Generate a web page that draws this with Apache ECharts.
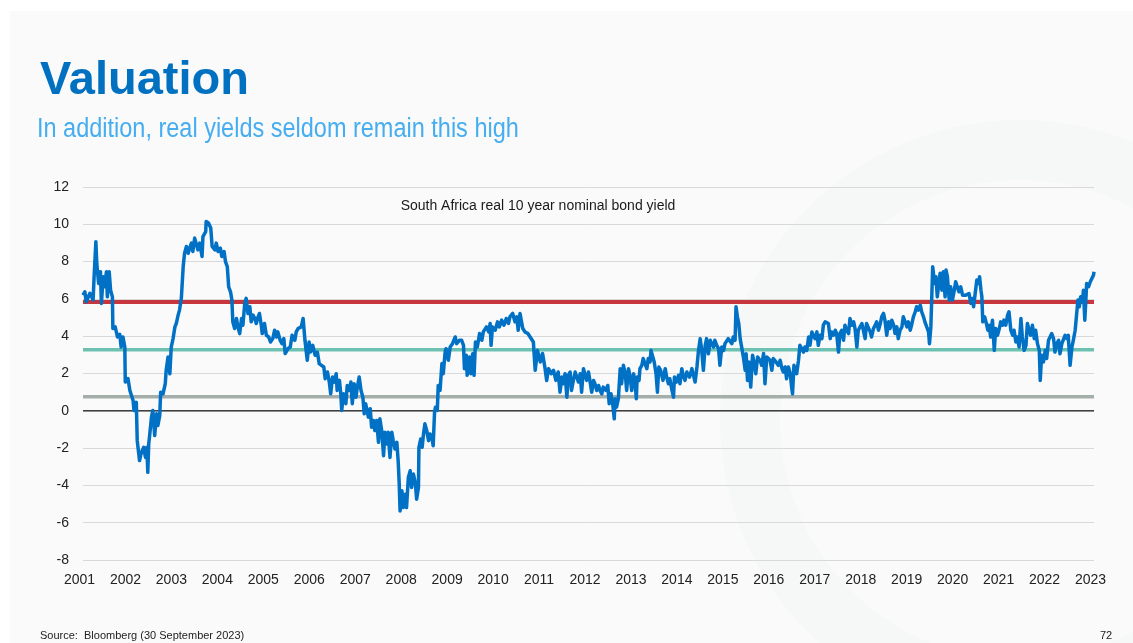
<!DOCTYPE html>
<html>
<head>
<meta charset="utf-8">
<script src="https://cdn.jsdelivr.net/npm/echarts@6/dist/echarts.min.js"></script>
<style>
  html, body { margin: 0; padding: 0; background: #ffffff; }
  #chart { width: 1133px; height: 643px; }
</style>
</head>
<body>
<div id="chart"></div>
<script>
// ---- Data ----
const titleText = 'Valuation';
const subtitleText = 'In addition, real yields seldom remain this high';
const chartTitle = 'South Africa real 10 year nominal bond yield';
const sourceText = 'Source:  Bloomberg (30 September 2023)';
const pageNumber = '72';

const yearTicks = ['2001','2002','2003','2004','2005','2006','2007','2008','2009','2010','2011','2012','2013','2014','2015','2016','2017','2018','2019','2020','2021','2022','2023'];

// Decimal dates of the readings
const dates = [
2001.00,2001.04,2001.07,2001.15,2001.22,2001.24,2001.28,2001.30,2001.34,2001.38,2001.40,2001.44,2001.47,2001.51,2001.53,2001.57,2001.60,2001.64,2001.65,2001.70,
2001.75,2001.80,2001.83,2001.87,2001.91,2001.92,2001.98,2002.02,2002.05,2002.09,2002.11,2002.16,2002.18,2002.23,2002.27,2002.32,2002.36,2002.39,2002.41,2002.43,
2002.45,2002.49,2002.52,2002.56,2002.60,2002.63,2002.67,2002.69,2002.74,2002.79,2002.81,2002.85,2002.89,2002.92,2002.96,2003.00,2003.03,2003.07,2003.10,2003.14,
2003.18,2003.21,2003.25,2003.29,2003.32,2003.36,2003.39,2003.43,2003.47,2003.50,2003.54,2003.59,2003.61,2003.67,2003.68,2003.73,2003.78,2003.81,2003.87,2003.90,
2003.94,2003.99,2004.02,2004.07,2004.10,2004.14,2004.17,2004.21,2004.24,2004.26,2004.30,2004.34,2004.37,2004.41,2004.45,2004.48,2004.52,2004.55,2004.59,2004.63,
2004.66,2004.70,2004.74,2004.77,2004.81,2004.84,2004.88,2004.90,2004.95,2004.99,2005.04,2005.08,2005.13,2005.17,2005.21,2005.24,2005.29,2005.33,2005.37,2005.40,
2005.46,2005.51,2005.55,2005.61,2005.64,2005.68,2005.72,2005.75,2005.79,
2005.83,2005.88,2005.92,2005.95,2006.00,2006.05,2006.10,2006.14,2006.19,2006.24,2006.27,2006.32,2006.36,2006.39,2006.43,2006.47,2006.51,2006.53,2006.58,2006.61,
2006.63,2006.67,2006.72,2006.75,2006.80,2006.83,2006.86,2006.90,2006.94,2006.97,2007.01,2007.05,2007.09,2007.12,2007.15,2007.21,2007.25,2007.28,2007.32,2007.35,
2007.39,2007.43,2007.46,2007.50,2007.54,2007.57,2007.61,2007.64,2007.68,2007.72,2007.75,2007.79,2007.83,2007.86,2007.88,2007.90,2007.94,2007.97,2008.01,2008.04,
2008.08,2008.12,2008.15,2008.19,2008.23,2008.26,2008.30,2008.31,2008.35,2008.38,2008.41,2008.44,2008.48,2008.52,2008.55,2008.59,2008.62,2008.65,2008.67,2008.71,
2008.73,2008.77,2008.81,2008.84,2008.88,2008.90,2008.95,2008.99,2009.04,2009.10,2009.13,2009.19,2009.24,2009.28,2009.30,2009.34,2009.36,2009.41,2009.44,2009.48,
2009.51,2009.54,2009.58,2009.63,2009.68,2009.71,2009.75,2009.78,2009.83,2009.86,2009.88,2009.91,2009.97,2010.02,2010.06,2010.11,2010.16,2010.21,2010.26,2010.29,
2010.35,2010.40,2010.44,2010.47,2010.51,2010.57,2010.62,2010.68,
2010.73,2010.80,2010.84,2010.89,2010.95,2011.00,2011.05,2011.09,2011.13,2011.19,2011.24,2011.29,2011.34,2011.38,2011.42,2011.45,2011.49,2011.53,2011.56,2011.60,
2011.63,2011.67,2011.71,2011.74,2011.78,2011.82,2011.85,2011.89,2011.92,2011.96,2012.00,2012.03,2012.07,2012.11,2012.14,2012.18,2012.22,2012.25,2012.29,2012.32,
2012.38,2012.42,2012.45,2012.49,2012.53,2012.56,2012.58,2012.61,2012.65,2012.69,2012.72,2012.76,2012.80,2012.83,2012.87,2012.90,2012.94,2012.98,2013.01,2013.04,
2013.06,2013.10,2013.12,2013.16,2013.19,2013.23,2013.27,2013.30,2013.34,2013.36,2013.40,2013.43,2013.47,2013.50,2013.53,2013.57,2013.62,2013.67,2013.70,2013.74,
2013.77,2013.81,2013.85,2013.87,2013.91,2013.96,2013.99,2014.03,2014.06,2014.10,2014.14,2014.20,2014.25,2014.28,2014.32,2014.36,2014.39,2014.43,2014.46,2014.50,
2014.54,2014.57,2014.61,2014.65,2014.68,2014.72,2014.75,2014.79,2014.83,2014.86,2014.90,2014.94,2014.97,2015.01,2015.04,2015.08,2015.12,2015.15,2015.19,2015.21,
2015.24,2015.27,2015.30,2015.33,2015.37,2015.41,2015.43,2015.46,2015.49,2015.53,2015.57,2015.60,2015.64,2015.68,
2015.73,2015.77,2015.81,2015.84,2015.88,2015.92,2015.95,2015.99,2016.02,2016.08,2016.13,2016.17,2016.21,2016.24,2016.28,2016.31,2016.35,2016.39,2016.42,2016.44,
2016.47,2016.50,2016.53,2016.57,2016.60,2016.64,2016.68,2016.71,2016.75,2016.79,2016.82,2016.86,2016.89,2016.93,2016.97,2017.00,2017.04,2017.08,2017.11,2017.15,
2017.18,2017.22,2017.26,2017.29,2017.33,2017.37,2017.40,2017.44,2017.47,2017.51,2017.55,2017.58,2017.62,2017.66,2017.69,2017.73,2017.77,2017.80,2017.84,2017.87,
2017.91,2017.95,2017.98,2018.02,2018.05,2018.09,2018.13,2018.16,2018.20,2018.24,2018.27,2018.31,2018.35,2018.38,2018.42,2018.45,2018.49,2018.53,2018.56,2018.60,
2018.64,2018.67,2018.71,2018.74,2018.78,2018.82,2018.85,2018.89,2018.93,2018.96,2019.00,2019.03,2019.07,2019.11,2019.14,2019.18,2019.22,2019.25,2019.29,2019.32,
2019.36,2019.40,2019.42,2019.45,2019.47,2019.49,2019.53,2019.56,2019.59,
2019.65,2019.69,2019.72,2019.76,2019.78,2019.81,2019.85,2019.88,2019.92,2019.96,2019.99,2020.03,2020.06,2020.10,2020.14,2020.17,2020.21,2020.25,2020.28,2020.32,
2020.35,2020.38,2020.41,2020.45,2020.49,2020.51,2020.54,2020.56,2020.58,2020.62,2020.65,2020.69,2020.72,2020.75,2020.79,2020.83,2020.86,2020.90,2020.94,2020.97,
2021.01,2021.04,2021.08,2021.12,2021.15,2021.19,2021.23,2021.26,2021.30,2021.33,2021.37,2021.41,2021.44,2021.48,2021.52,2021.55,2021.59,2021.62,2021.66,2021.70,
2021.73,2021.77,2021.81,2021.83,2021.86,2021.90,2021.94,2021.97,2022.01,2022.04,2022.08,2022.12,2022.15,2022.19,2022.23,2022.26,2022.30,2022.34,2022.37,2022.41,
2022.44,2022.48,2022.52,2022.55,2022.59,2022.63,2022.65,2022.68,2022.71,2022.75,2022.77,2022.80,2022.83,2022.84,2022.88,2022.92,2022.95,2022.99,2023.00
];

// Real 10-year yield (%)
const realYield = [
6.20,6.38,5.85,6.30,5.94,7.10,9.07,7.90,6.83,7.46,5.76,7.19,6.65,7.46,6.11,7.46,6.47,6.11,4.41,4.50,
3.96,4.10,3.42,3.96,3.42,1.54,1.72,1.09,1.00,0.55,0.02,0.45,-1.60,-2.67,-2.23,-1.96,-2.50,-1.96,-3.30,-1.78,
-1.33,-0.34,0.02,-1.33,-0.16,-0.79,-0.25,1.00,0.90,1.45,2.17,2.89,1.99,3.42,3.87,4.50,4.68,5.13,5.40,6.03,
7.73,8.45,8.81,8.45,8.72,8.99,8.54,9.26,8.90,8.63,8.99,8.27,9.34,9.61,10.15,10.07,9.80,8.81,8.63,8.99,
8.54,8.72,8.27,8.54,8.00,7.73,6.65,6.38,5.94,4.77,4.41,4.95,4.50,4.14,4.95,4.59,5.76,6.03,5.22,5.58,
4.77,5.13,4.95,4.68,5.04,5.22,4.59,4.14,4.68,4.05,3.96,3.69,3.87,4.32,3.96,4.23,3.78,3.60,3.87,3.07,
3.33,3.42,4.05,3.78,4.23,4.41,4.32,4.50,4.95,
3.78,2.71,3.69,3.15,3.51,2.98,3.15,2.53,2.44,2.35,1.72,2.08,1.54,0.91,1.81,1.54,1.99,1.09,1.63,0.91,
0.02,0.91,0.38,1.36,1.09,1.54,0.38,1.45,0.73,1.27,1.81,1.09,0.73,-0.16,0.38,-0.34,0.11,-0.88,-0.52,-1.06,
-0.52,-1.69,-0.43,-1.06,-2.41,-1.15,-1.78,-1.15,-2.50,-1.15,-1.60,-2.05,-1.69,-2.77,-3.84,-5.37,-4.29,-5.19,-4.47,-5.19,
-3.57,-3.21,-4.11,-3.39,-3.84,-4.74,-4.11,-1.96,-1.51,-1.96,-1.24,-0.70,-1.06,-1.60,-1.24,-1.42,-1.87,-0.07,0.19,0.02,
1.36,1.09,2.53,1.99,3.15,3.33,2.71,3.42,3.60,3.96,3.60,3.78,3.78,3.51,2.26,2.98,1.90,2.89,1.99,3.06,
1.90,3.69,3.42,4.14,3.78,4.23,4.14,4.50,4.23,4.68,3.51,4.50,4.32,4.77,4.50,4.86,4.59,4.95,4.68,5.04,
5.22,4.77,5.04,4.32,5.22,4.41,4.23,4.14,
3.96,3.69,2.17,3.24,2.62,3.07,2.35,1.63,2.26,1.99,2.17,1.63,2.08,1.00,1.81,1.45,1.99,0.73,1.90,2.08,
1.09,1.63,2.08,2.17,1.54,1.99,1.00,2.26,1.99,1.63,2.08,1.63,1.00,1.63,1.45,1.09,1.36,1.09,0.91,1.27,
1.09,1.36,0.38,0.91,0.29,-0.43,0.65,0.20,0.65,2.26,1.45,2.44,1.99,1.09,2.26,1.90,1.09,1.99,1.63,0.65,
1.81,1.63,2.26,2.44,2.80,2.53,2.26,2.80,2.62,3.24,2.89,2.62,1.99,1.00,2.35,2.17,1.63,2.26,1.81,1.45,
1.72,1.18,0.73,1.81,1.54,1.90,1.45,2.26,1.90,1.63,2.08,1.81,2.26,2.17,1.54,2.35,3.15,3.87,3.33,2.17,
3.51,3.87,3.06,3.78,3.60,3.42,3.78,3.51,3.33,2.44,3.42,3.24,3.60,3.69,3.87,3.78,3.60,3.96,3.78,5.58,
5.04,4.68,3.87,3.96,2.89,2.17,3.06,1.63,2.62,1.27,2.98,2.62,1.99,2.89,
2.71,2.44,3.07,1.45,2.89,2.98,2.71,2.17,2.80,2.62,2.44,2.71,2.26,2.08,2.35,1.72,2.35,2.00,1.27,0.91,
2.44,2.35,1.99,2.71,3.51,3.33,3.15,3.42,3.24,3.96,3.51,4.23,4.05,3.87,4.23,3.51,4.05,3.87,4.59,4.77,
4.68,4.68,3.87,4.23,4.05,4.32,4.14,3.15,4.14,4.32,3.78,4.59,4.32,4.14,4.95,4.59,4.77,4.41,3.42,4.32,
4.50,4.68,4.32,3.87,4.68,4.77,4.23,3.96,4.41,4.59,4.77,4.32,4.68,5.04,5.22,4.86,4.05,4.77,4.41,4.86,
4.59,4.14,4.50,3.87,4.32,4.50,5.04,4.77,4.50,4.77,4.32,4.59,5.04,5.31,5.58,5.40,5.67,5.31,5.04,4.77,
4.50,4.23,3.60,4.50,6.11,7.73,6.83,7.19,6.11,
7.37,6.47,7.46,6.11,7.55,7.19,5.94,6.65,5.94,6.47,6.92,6.83,6.38,6.65,6.20,6.20,6.20,6.20,6.29,5.76,
6.02,5.58,6.20,7.01,6.83,7.19,6.47,6.11,4.77,5.04,4.77,4.32,4.59,3.96,4.86,3.24,4.41,4.05,4.41,4.77,
4.59,4.86,4.59,5.13,5.31,4.32,4.05,4.32,3.69,3.96,3.42,4.95,3.96,3.24,3.51,4.68,4.32,4.05,4.59,3.87,
4.32,3.60,3.24,1.63,2.98,2.62,3.24,2.80,3.78,3.69,4.14,3.87,3.15,3.60,3.78,3.06,3.60,3.51,4.05,3.87,
4.05,2.44,3.42,3.78,4.32,5.40,5.94,5.58,6.11,5.85,6.47,4.86,6.29,6.83,6.65,6.92,6.83,7.28,7.46
];

// Horizontal reference levels (%)
const refLevels = [5.83, 3.28, 0.75];
const refColors = ['#C8363D', '#6CC1B1', '#A4AFAA'];
const zeroLevel = 0;

const yTicks = { min: -8, max: 12, step: 2 };

// ---- Build ----
const seriesData = dates.map((d, i) => [d, realYield[i]]);

const chart = echarts.init(document.getElementById('chart'), null, { renderer: 'canvas' });

const refSeries = refLevels.map((lv, i) => ({
  type: 'line',
  data: [[2001, lv], [2023, lv]],
  symbol: 'none',
  silent: true,
  z: 3,
  lineStyle: { color: refColors[i], width: i === 0 ? 4 : 3.5 },
  animation: false
}));

const option = {
  backgroundColor: 'transparent',
  animation: false,
  grid: { left: 83, right: 39, top: 187, bottom: 83, containLabel: false },
  xAxis: {
    type: 'value',
    min: 2001, max: 2023, interval: 1,
    axisLine: { show: false },
    axisTick: { show: false },
    splitLine: { show: false },
    axisLabel: {
      color: '#222222', fontSize: 14, fontFamily: 'Liberation Sans, Arial, sans-serif',
      margin: 13,
      padding: [0, 7, 0, 0],
      formatter: v => yearTicks[Math.round(v - 2001)] || ''
    }
  },
  yAxis: {
    type: 'value',
    min: yTicks.min, max: yTicks.max, interval: yTicks.step,
    axisLine: { show: false },
    axisTick: { show: false },
    splitLine: { lineStyle: { color: '#D9D9D9', width: 1 } },
    axisLabel: { color: '#222222', fontSize: 14, fontFamily: 'Liberation Sans, Arial, sans-serif', margin: 14 }
  },
  series: [
    {
      type: 'line',
      data: [[2001, zeroLevel], [2023, zeroLevel]],
      symbol: 'none', silent: true, z: 2,
      lineStyle: { color: '#404040', width: 1.5 }
    },
    ...refSeries,
    {
      type: 'line',
      data: seriesData,
      symbol: 'none',
      z: 4,
      lineStyle: { color: '#0071C5', width: 3.5, join: 'round' }
    }
  ],
  graphic: [
    { type: 'rect', silent: true, z: -10, shape: { x: 10, y: 11, width: 1123, height: 632 }, style: { fill: '#FAFAFA' } },
    { type: 'ring', silent: true, z: -9, shape: { cx: 1020, cy: 420, r: 300, r0: 240 }, style: { fill: '#F6F7F7' } },
    { type: 'text', z: 10, style: { x: 40, y: 81, text: titleText, fill: '#0070C0', font: 'bold 47px "Liberation Sans", Arial, sans-serif', verticalAlign: 'middle' } },
    { type: 'text', z: 10, x: 37, y: 130, scaleX: 0.87, style: { x: 0, y: 0, text: subtitleText, fill: '#45ADF0', font: '27px "Liberation Sans", Arial, sans-serif', verticalAlign: 'middle' } },
    { type: 'text', z: 10, style: { x: 538, y: 206, text: chartTitle, fill: '#1A1A1A', font: '14px "Liberation Sans", Arial, sans-serif', align: 'center', verticalAlign: 'middle' } },
    { type: 'text', z: 10, style: { x: 40, y: 636, text: sourceText, fill: '#222222', font: '11px "Liberation Sans", Arial, sans-serif', verticalAlign: 'middle' } },
    { type: 'text', z: 10, style: { x: 1106, y: 636, text: pageNumber, fill: '#222222', font: '11px "Liberation Sans", sans-serif', align: 'center', verticalAlign: 'middle' } }
  ]
};

chart.setOption(option);
</script>
</body>
</html>
